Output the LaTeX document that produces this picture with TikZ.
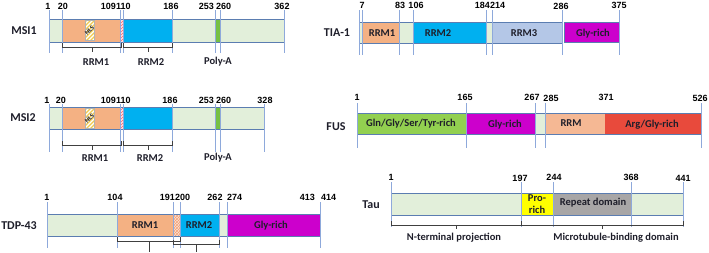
\documentclass[tikz,border=0pt]{standalone}
\usepackage{fontspec}
\setmainfont{Carlito}
\newfontfamily\numfont{Liberation Sans}
\usetikzlibrary{patterns}
\definecolor{lgreen}{HTML}{E2EFDA}
\definecolor{barout}{HTML}{5B7DB1}
\definecolor{tickc}{HTML}{8EA9DB}
\definecolor{orng}{HTML}{F4B183}
\definecolor{blu}{HTML}{00B0F0}
\definecolor{pgreen}{HTML}{76C043}
\definecolor{magn}{HTML}{CC00CC}
\definecolor{lav}{HTML}{B4C7E7}
\definecolor{fgreen}{HTML}{92D050}
\definecolor{forng}{HTML}{F5B894}
\definecolor{fred}{HTML}{E84A3C}
\definecolor{ylw}{HTML}{FFFF00}
\definecolor{gry}{HTML}{A8A6A6}
\definecolor{txt}{HTML}{1E1E2A}
\definecolor{brkc}{HTML}{404040}
\definecolor{stripe}{HTML}{F2C94C}
\tikzset{
  barframe/.style={draw=barout, line width=0.5pt},
  vline/.style={draw=tickc, line width=0.7pt},
  num/.style={font=\numfont\bfseries\fontsize{9}{9}\selectfont, inner sep=0pt, text=black},
  lab/.style={font=\bfseries\fontsize{10.5}{11}\selectfont, inner sep=0pt, text=txt},
  pname/.style={font=\bfseries\fontsize{12}{13}\selectfont, inner sep=0pt, text=txt},
  brk/.style={draw=brkc, line width=0.5pt},
  nlstext/.style={font=\bfseries\fontsize{6.5}{6.5}\selectfont, text=txt, rotate=45, inner sep=0pt},
}
\begin{document}
\begin{tikzpicture}[x=1pt,y=-1pt]
\useasboundingbox (0,0) rectangle (709,252);

% ================= MSI1 =================
\fill[lgreen] (49,19) rectangle (284,42);
\fill[orng] (62,19) rectangle (120,42);
\fill[pink!40] (120,19) rectangle (123,42);
\fill[pattern=north east lines, pattern color=red!60] (120,19) rectangle (123,42);
\fill[blu] (123,19) rectangle (172,42);
\fill[pgreen] (215,19) rectangle (221,42);
\draw[barframe] (49,19) rectangle (284,42);
\begin{scope}
  \clip (85,20) rectangle (94,40);
  \fill[white] (85,20) rectangle (94,40);
  \foreach \k in {-24,-20,...,12} \draw[stripe, line width=1.4pt] (85+\k,42) -- ++(24,-24);
\end{scope}
\draw[gray!60, line width=0.3pt] (85,20) rectangle (94,40);
\node[nlstext] (nls1) at (89.5,30) {NLS};
\foreach \x in {49,62,120,123,172,215,220,284} \draw[vline] (\x,10) -- (\x,53);
\node[num] (m1a) at (48,6) {1};
\node[num] (m1b) at (63,6) {20};
\node[num, anchor=east] (m1c) at (116,6) {109};
\node[num, anchor=west] (m1d) at (116,6) {110};
\node[num] (m1e) at (171,6) {186};
\node[num, anchor=east] (m1f) at (214,6) {253};
\node[num, anchor=west] (m1g) at (216,6) {260};
\node[num] (m1h) at (282,6) {362};
\draw[brk] (62,43) -- (62,47) -- (121,47) -- (121,43);
\draw[brk] (92,47) -- (92,52);
\draw[brk] (123,43) -- (123,47) -- (172,47) -- (172,43);
\draw[brk] (148,47) -- (148,52);
\node[lab] (m1r1) at (96,62) {RRM1};
\node[lab] (m1r2) at (151,62) {RRM2};
\node[lab] (m1pa) at (218,62) {Poly-A};
\node[pname] (msi1) at (24,31) {MSI1};

% ================= MSI2 =================
\fill[lgreen] (49,107) rectangle (264,129);
\fill[orng] (62,107) rectangle (120,129);
\fill[pink!40] (120,107) rectangle (123,129);
\fill[pattern=north east lines, pattern color=red!60] (120,107) rectangle (123,129);
\fill[blu] (123,107) rectangle (172,129);
\fill[pgreen] (215,107) rectangle (221,129);
\draw[barframe] (49,107) rectangle (264,129);
\begin{scope}
  \clip (85,108) rectangle (94,128);
  \fill[white] (85,108) rectangle (94,128);
  \foreach \k in {-24,-20,...,12} \draw[stripe, line width=1.4pt] (85+\k,130) -- ++(24,-24);
\end{scope}
\draw[gray!60, line width=0.3pt] (85,108) rectangle (94,128);
\node[nlstext] (nls2) at (89.5,118) {NLS};
\foreach \x in {49,62,120,123,172,215,220,264} \draw[vline] (\x,104) -- (\x,152);
\node[num] (m2a) at (47,100) {1};
\node[num] (m2b) at (61,100) {20};
\node[num, anchor=east] (m2c) at (116,100) {109};
\node[num, anchor=west] (m2d) at (116,100) {110};
\node[num] (m2e) at (170,100) {186};
\node[num, anchor=east] (m2f) at (214,100) {253};
\node[num, anchor=west] (m2g) at (216,100) {260};
\node[num] (m2h) at (265,100) {328};
\draw[brk] (62,141) -- (62,145) -- (121,145) -- (121,141);
\draw[brk] (92,145) -- (92,150);
\draw[brk] (123,141) -- (123,145) -- (172,145) -- (172,141);
\draw[brk] (148,145) -- (148,150);
\node[lab] (m2r1) at (95,158) {RRM1};
\node[lab] (m2r2) at (150,158) {RRM2};
\node[lab] (m2pa) at (218,158) {Poly-A};
\node[pname] (msi2) at (23,118) {MSI2};

% ================= TDP-43 =================
\fill[lgreen] (47,214) rectangle (320,236);
\fill[orng] (117,214) rectangle (173,236);
\fill[orng!35] (173,214) rectangle (180,236);
\fill[pattern=crosshatch, pattern color=orng!90!red] (173,214) rectangle (180,236);
\fill[blu] (180,214) rectangle (219,236);
\fill[magn] (227,214) rectangle (320,236);
\draw[barframe] (47,214) rectangle (320,236);
\foreach \x in {47,117,173,180,219,227,320} \draw[vline] (\x,202) -- (\x,248);
\node[num] (t1) at (47,197) {1};
\node[num] (t2) at (115,197) {104};
\node[num, anchor=east] (t3) at (175,197) {191};
\node[num, anchor=west] (t4) at (175,197) {200};
\node[num] (t5) at (215,197) {262};
\node[num, anchor=west] (t6) at (227,197) {274};
\node[num, anchor=east] (t7) at (315,197) {413};
\node[num, anchor=west] (t8) at (321,197) {414};
\node[lab] (tr1) at (145,225) {RRM1};
\node[lab] (tr2) at (199,225) {RRM2};
\node[lab] (tg) at (271,226) {Gly-rich};
\draw[brk] (117,237) -- (117,241) -- (180,241) -- (180,237);
\draw[brk] (149,241) -- (149,252);
\draw[brk] (173,240) -- (173,244) -- (219,244) -- (219,240);
\draw[brk] (196,244) -- (196,252);
\node[pname] (tdp) at (19,226) {TDP-43};

% ================= TIA-1 =================
\fill[lgreen] (359,22) rectangle (619,43);
\fill[orng] (362,22) rectangle (399,43);
\fill[blu] (413,22) rectangle (486,43);
\fill[lav] (492,22) rectangle (562,43);
\fill[white] (562,22) rectangle (564,43);
\fill[magn] (564,22) rectangle (619,42);
\draw[barframe] (359,22) rectangle (562,43);
\draw[barframe] (564,22) rectangle (619,42);
\foreach \x in {359,362,399,413,486,492,562,619} \draw[vline] (\x,10) -- (\x,55);
\node[num] (a1) at (362,5) {7};
\node[num] (a2) at (400,5) {83};
\node[num] (a3) at (416,5) {106};
\node[num, anchor=east] (a4) at (490,5) {184};
\node[num, anchor=west] (a5) at (490,5) {214};
\node[num] (a6) at (561,6) {286};
\node[num] (a7) at (619,5) {375};
\node[lab] (ar1) at (382,33) {RRM1};
\node[lab] (ar2) at (438,33) {RRM2};
\node[lab] (ar3) at (524,33) {RRM3};
\node[lab] (ag) at (593,34) {Gly-rich};
\node[pname] (tia) at (337,33) {TIA-1};

% ================= FUS =================
\fill[lgreen] (357,113) rectangle (701,134);
\fill[fgreen] (357,113) rectangle (466,134);
\fill[magn] (466,113) rectangle (535,134);
\fill[forng] (545,113) rectangle (605,134);
\fill[fred] (605,113) rectangle (701,134);
\draw[barframe] (357,113) rectangle (701,134);
\foreach \x in {357,466,535,545,701} \draw[vline] (\x,103) -- (\x,148);
\node[num] (f1) at (357,97) {1};
\node[num] (f2) at (465,97) {165};
\node[num] (f3) at (532,97) {267};
\node[num] (f4) at (551,98) {285};
\node[num] (f5) at (606,97) {371};
\node[num] (f6) at (700,98) {526};
\node[lab] (fa) at (411,124) {Gln/Gly/Ser/Tyr-rich};
\node[lab] (fb) at (505,125) {Gly-rich};
\node[lab] (fc) at (571,123) {RRM};
\node[lab] (fd) at (652,125) {Arg/Gly-rich};
\node[pname] (fus) at (336,127) {FUS};

% ================= Tau =================
\fill[lgreen] (391,193) rectangle (683,215);
\fill[ylw] (521,193) rectangle (553,215);
\fill[gry] (553,193) rectangle (631,215);
\draw[barframe] (391,193) rectangle (683,215);
\foreach \x in {391,521,553,631,683} \draw[vline] (\x,182) -- (\x,227);
\node[num] (u1) at (391,177) {1};
\node[num] (u2) at (520,178) {197};
\node[num] (u3) at (554,177) {244};
\node[num] (u4) at (631,177) {368};
\node[num] (u5) at (683,178) {441};
\node[lab, align=center, font=\bfseries\fontsize{10.5}{12}\selectfont] (up) at (537,204) {Pro-\\rich};
\node[lab] (ur) at (593,203) {Repeat domain};
\draw[brk] (391,221) -- (391,225) -- (521,225) -- (521,221);
\draw[brk] (456,225) -- (456,229);
\draw[brk] (521,225) -- (683,225) -- (683,221);
\draw[brk] (602,225) -- (602,229);
\node[lab] (un) at (454,238) {N-terminal projection};
\node[lab] (um) at (616,238) {Microtubule-binding domain};
\node[pname] (tau) at (371,205) {Tau};
\end{tikzpicture}
\end{document}
